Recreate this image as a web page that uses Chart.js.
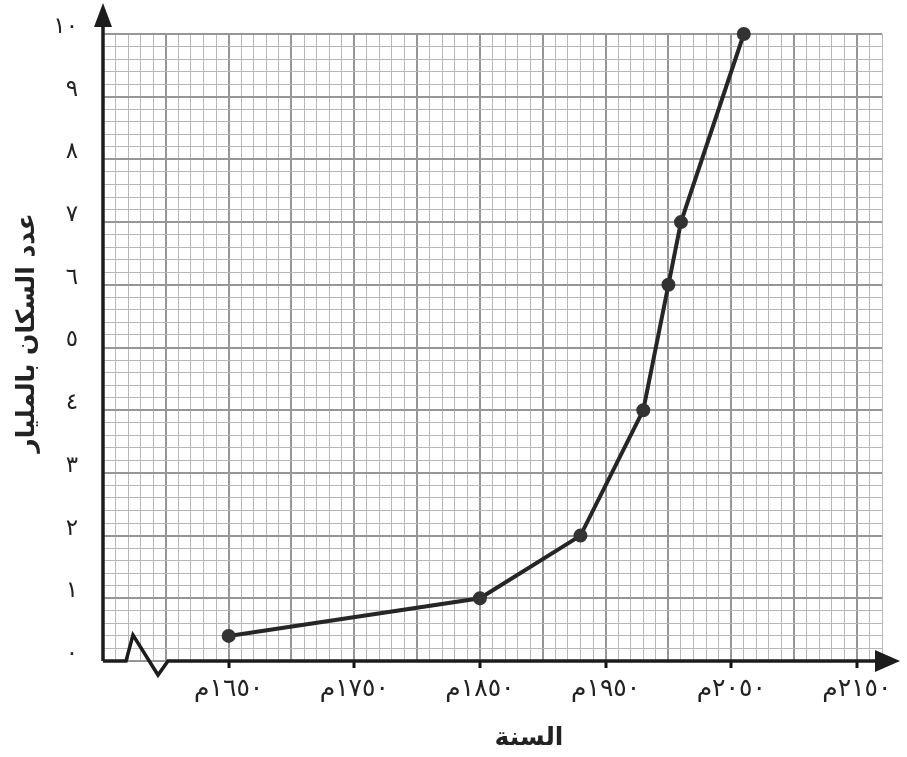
<!DOCTYPE html>
<html lang="ar">
<head>
<meta charset="utf-8">
<script src="https://cdn.jsdelivr.net/npm/chart.js@4"></script>
<style>
  body { margin: 0; background: #fff; }
  #wrap { width: 907px; height: 757px; position: relative; }
</style>
</head>
<body>
<div id="wrap"><canvas id="popChart"></canvas></div>
<script>
// world population (billions) by year
const years = [1650, 1850, 1930, 1980, 2000, 2010, 2060];
const population = [0.4, 1, 2, 4, 6, 7, 10];

// tick labels
const xTickYears = [1650, 1750, 1850, 1950, 2050, 2150];
const xTickLabels = ["١٦٥٠م", "١٧٥٠م", "١٨٥٠م", "١٩٥٠م", "٢٠٥٠م", "٢١٥٠م"];
const yTickLabels = ["٠", "١", "٢", "٣", "٤", "٥", "٦", "٧", "٨", "٩", "١٠"];

const xTitle = "السنة";
const yTitle = "عدد السكان بالمليار";

const FONT = "'DejaVu Sans', sans-serif";

function isWhole(v) {
    return Math.abs(v - Math.round(v)) < 1e-6;
}

// hand drawn axes: arrows and the axis break
const axesPlugin = {
    id: "axes",
    afterDraw(chart) {
        const { ctx, chartArea } = chart;
        const l = chartArea.left, r = chartArea.right, t = chartArea.top, b = chartArea.bottom;
        ctx.save();
        ctx.strokeStyle = "#1c1c1c";
        ctx.fillStyle = "#1c1c1c";
        ctx.lineWidth = 3.5;
        ctx.lineJoin = "miter";

        // y axis
        ctx.beginPath();
        ctx.moveTo(l, b);
        ctx.lineTo(l, t - 8);
        ctx.stroke();
        ctx.beginPath();
        ctx.moveTo(l, t - 31);
        ctx.lineTo(l - 9, t - 7);
        ctx.lineTo(l + 9, t - 7);
        ctx.closePath();
        ctx.fill();

        // x axis with zigzag break
        ctx.beginPath();
        ctx.moveTo(l, b);
        ctx.lineTo(l + 23, b);
        ctx.lineTo(l + 30, b - 26);
        ctx.lineTo(l + 55, b + 14);
        ctx.lineTo(l + 65, b);
        ctx.lineTo(r - 6, b);
        ctx.stroke();
        ctx.beginPath();
        ctx.moveTo(r + 18, b);
        ctx.lineTo(r - 7, b - 11);
        ctx.lineTo(r - 7, b + 11);
        ctx.closePath();
        ctx.fill();

        // axis titles
        ctx.fillStyle = "#222";
        ctx.textAlign = "center";
        ctx.textBaseline = "middle";
        ctx.font = "bold 25px " + FONT;
        ctx.fillText(xTitle, 529, 738);

        ctx.font = "bold 25px " + FONT;
        ctx.translate(27, 333);
        ctx.rotate(-Math.PI / 2);
        ctx.fillText(yTitle, 0, 0);
        ctx.restore();
    }
};

const ctx = document.getElementById("popChart").getContext("2d");

new Chart(ctx, {
    type: "line",
    data: {
        datasets: [{
            data: years.map((yr, i) => ({ x: yr, y: population[i] })),
            borderColor: "#262626",
            borderWidth: 4,
            pointRadius: 5,
            pointBackgroundColor: "#333",
            pointBorderColor: "#333",
            tension: 0,
            clip: false,
        }],
    },
    options: {
        responsive: true,
        maintainAspectRatio: false,
        animation: false,
        layout: { padding: { left: 0, top: 34, right: 25, bottom: 0 } },
        plugins: {
            legend: { display: false },
            tooltip: { enabled: false },
        },
        scales: {
            x: {
                type: "linear",
                min: 1550,
                max: 2170,
                afterFit: (scale) => {
                    scale.height = 96;
                    scale.paddingLeft = 0;
                    scale.paddingRight = 0;
                },
                border: { display: false },
                grid: {
                    color: (c) => (c.tick.value % 50 === 0 ? "#969696" : "#b8b8b8"),
                    lineWidth: (c) => (c.tick.value % 50 === 0 ? 2 : 1),
                    drawTicks: true,
                    tickLength: 7,
                    tickWidth: 3,
                    tickColor: (c) => (xTickYears.includes(c.tick.value) ? "#111" : "rgba(0,0,0,0)"),
                },
                ticks: {
                    stepSize: 10,
                    maxTicksLimit: 1000,
                    autoSkip: false,
                    maxRotation: 0,
                    padding: 6,
                    color: "#222",
                    font: { family: FONT, size: 25 },
                    callback: (v) => {
                        const i = xTickYears.indexOf(v);
                        return i >= 0 ? xTickLabels[i] : "";
                    },
                },
            },
            y: {
                min: 0,
                max: 10,
                afterFit: (scale) => {
                    scale.width = 103;
                    scale.paddingTop = 0;
                    scale.paddingBottom = 0;
                },
                border: { display: false },
                grid: {
                    color: (c) => (isWhole(c.tick.value) ? "#969696" : "#b8b8b8"),
                    lineWidth: (c) => (isWhole(c.tick.value) ? 2 : 1),
                    drawTicks: false,
                },
                ticks: {
                    stepSize: 0.2,
                    maxTicksLimit: 1000,
                    autoSkip: false,
                    padding: 25,
                    labelOffset: -7,
                    color: "#222",
                    font: { family: FONT, size: 23 },
                    callback: (v) => (isWhole(v) ? yTickLabels[Math.round(v)] : ""),
                },
            },
        },
    },
    plugins: [axesPlugin],
});
</script>
</body>
</html>
